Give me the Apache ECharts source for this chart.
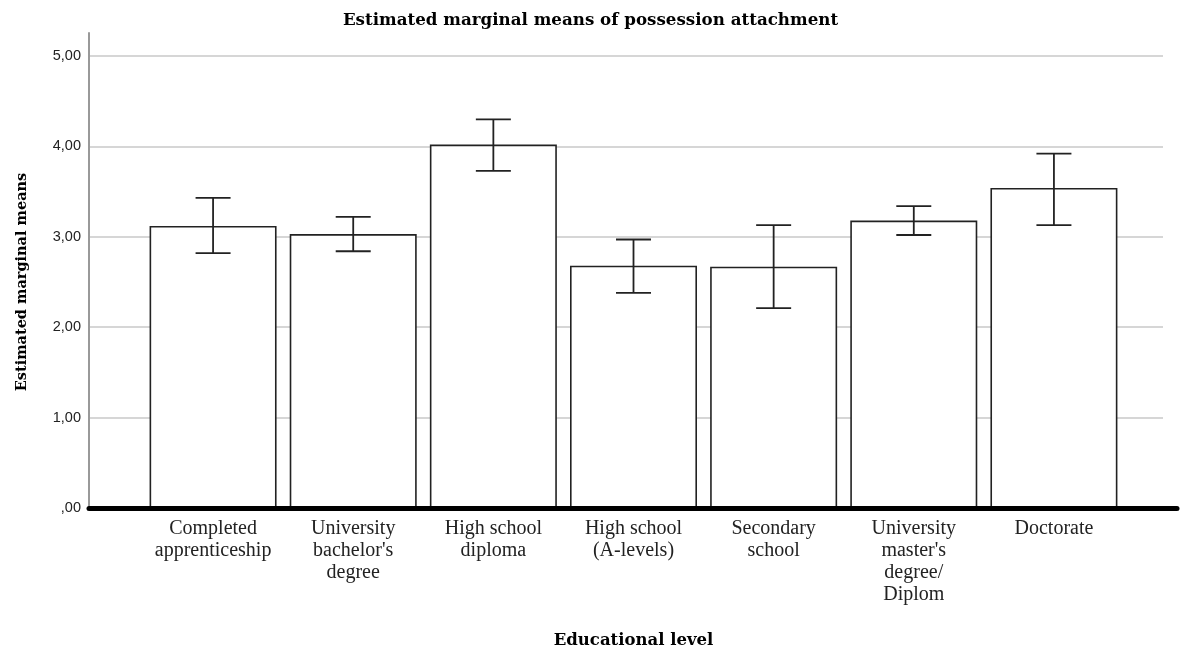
<!DOCTYPE html>
<html>
<head>
<meta charset="utf-8">
<script src="https://cdn.jsdelivr.net/npm/echarts@6/dist/echarts.min.js"></script>
<style>
  html, body { margin: 0; padding: 0; background: #fff; }
  #chart { width: 1181px; height: 655px; }
</style>
</head>
<body>
<div id="chart"></div>
<script>
// Educational level categories (line breaks as shown under each bar)
const categories = [
  'Completed\napprenticeship',
  "University\nbachelor's\ndegree",
  'High school\ndiploma',
  'High school\n(A-levels)',
  'Secondary\nschool',
  "University\nmaster's\ndegree/\nDiplom",
  'Doctorate'
];
// Estimated marginal means with lower / upper bounds of the error bars
const means = [3.12, 3.03, 4.02, 2.68, 2.67, 3.18, 3.54];
const lowerBound = [2.82, 2.84, 3.73, 2.38, 2.21, 3.02, 3.13];
const upperBound = [3.43, 3.22, 4.30, 2.97, 3.13, 3.34, 3.92];
const yTicks = [0, 1, 2, 3, 4, 5];

const serif = '"Liberation Serif", "Times New Roman", serif';
const serifBold = '"DejaVu Serif", serif';

const errorData = categories.map((c, i) => [i, lowerBound[i], upperBound[i]]);

const chart = echarts.init(document.getElementById('chart'));
chart.setOption({
  animation: false,
  backgroundColor: '#fff',
  title: {
    text: 'Estimated marginal means of possession attachment',
    left: 'center',
    top: 7,
    textStyle: { fontFamily: serifBold, fontWeight: 'bold', fontSize: 16.7, color: '#000' }
  },
  grid: [
    // grid 0: value labels and horizontal gridlines
    { left: 89, right: 18, top: 56, bottom: 147 },
    // grid 1: axis frame (vertical axis line and heavy baseline)
    { left: 89, right: 4, top: 33, bottom: 147 },
    // grid 2: bars and error bars
    { left: 143, right: 57, top: 56, bottom: 147 }
  ],
  xAxis: [
    { gridIndex: 0, type: 'value', min: 0, max: 1, show: false },
    {
      gridIndex: 1, type: 'value', min: 0, max: 1, z: 10,
      axisLine: { show: true, lineStyle: { color: '#000', width: 5 } },
      axisTick: { show: false }, axisLabel: { show: false }, splitLine: { show: false }
    },
    {
      gridIndex: 2, type: 'category', data: categories,
      axisLine: { show: false }, axisTick: { show: false },
      axisLabel: {
        interval: 0, margin: 10, fontFamily: serif, fontSize: 20, lineHeight: 22,
        color: '#222', align: 'center'
      },
      name: 'Educational level', nameLocation: 'middle', nameGap: 124,
      nameTextStyle: { fontFamily: serifBold, fontWeight: 'bold', fontSize: 16.5, color: '#000' }
    }
  ],
  yAxis: [
    {
      gridIndex: 0, type: 'value', min: yTicks[0], max: yTicks[yTicks.length - 1], interval: 1,
      axisLine: { show: false }, axisTick: { show: false },
      axisLabel: {
        margin: 8, fontFamily: '"Liberation Sans", Arial, sans-serif', fontSize: 14.5, color: '#222',
        formatter: v => v === 0 ? ',00' : v.toFixed(2).replace('.', ',')
      },
      splitLine: { show: true, lineStyle: { color: '#c8c8c8', width: 1.5 } },
      name: 'Estimated marginal means', nameLocation: 'middle', nameGap: 59,
      nameTextStyle: { fontFamily: serifBold, fontWeight: 'bold', fontSize: 14.5, color: '#000' }
    },
    {
      gridIndex: 1, type: 'value', min: 0, max: 1, z: 9,
      axisLine: { show: true, lineStyle: { color: '#999', width: 2 } },
      axisTick: { show: false }, axisLabel: { show: false }, splitLine: { show: false }
    },
    {
      gridIndex: 2, type: 'value', min: 0, max: 5, interval: 1, show: false,
      splitLine: { show: false }
    }
  ],
  series: [
    {
      type: 'bar', xAxisIndex: 2, yAxisIndex: 2,
      data: means, barWidth: 127,
      itemStyle: { color: '#fff', borderColor: '#222', borderWidth: 1.6 }
    },
    {
      type: 'custom', xAxisIndex: 2, yAxisIndex: 2, z: 5,
      data: errorData,
      renderItem: function (params, api) {
        const x = api.value(0);
        const lo = api.coord([x, api.value(1)]);
        const hi = api.coord([x, api.value(2)]);
        const half = 17.5;
        const style = { stroke: '#222', lineWidth: 1.8, fill: null };
        return {
          type: 'group',
          children: [
            { type: 'line', shape: { x1: hi[0], y1: hi[1], x2: lo[0], y2: lo[1] }, style },
            { type: 'line', shape: { x1: hi[0] - half, y1: hi[1], x2: hi[0] + half, y2: hi[1] }, style },
            { type: 'line', shape: { x1: lo[0] - half, y1: lo[1], x2: lo[0] + half, y2: lo[1] }, style }
          ]
        };
      }
    }
  ]
});
</script>
</body>
</html>
